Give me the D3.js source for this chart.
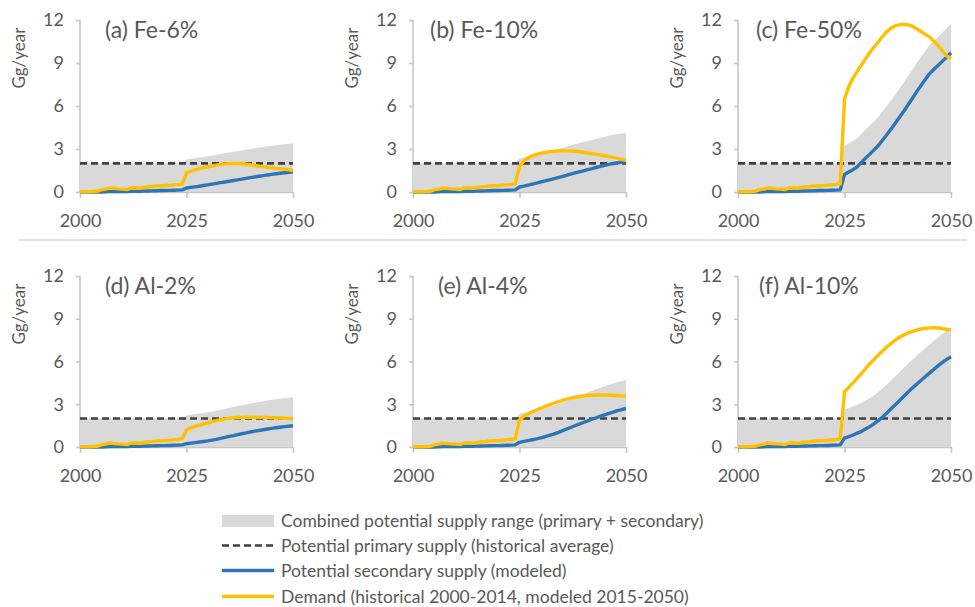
<!DOCTYPE html>
<html><head><meta charset="utf-8">
<script src="https://cdn.jsdelivr.net/npm/d3@7"></script>
<style>
body{margin:0;background:#fff}
svg{display:block}
text{font-family:Lato,"Open Sans",sans-serif;fill:#595959}
</style>
</head><body>
<svg id="chart" width="975" height="607"></svg>
<script>
// ---------------- DATA ----------------
const histYears = d3.range(2000, 2025);   // 2000-2024
const projYears = d3.range(2025, 2051);   // 2025-2050
const xTicks = [2000, 2025, 2050];
const yTicks = [0, 3, 6, 9, 12];
const yLabel = "Gg/year";

const panelTitles = ["(a) Fe-6%", "(b) Fe-10%", "(c) Fe-50%", "(d) Al-2%", "(e) Al-4%", "(f) Al-10%"];

// Historical (shared) demand and secondary supply, 2000-2024
const histDemand = [0.02,0.02,0.02,0.03,0.05,0.15,0.20,0.28,0.25,0.22,0.20,0.17,0.28,0.30,0.26,0.32,0.35,0.38,0.42,0.44,0.45,0.47,0.50,0.53,0.57];
const histSecondary = [0,0,0,0,0,0,0.02,0.04,0.03,0.03,0.03,0.03,0.05,0.05,0.05,0.06,0.07,0.08,0.09,0.10,0.10,0.11,0.12,0.13,0.15];

// Potential primary supply (historical average), per panel
const primarySupply = [2, 2, 2, 2, 2, 2];

// Modeled demand, 2025-2050
const demandFe6  = [1.33,1.45,1.55,1.63,1.70,1.76,1.82,1.87,1.92,1.96,1.98,1.99,1.99,1.97,1.94,1.90,1.85,1.80,1.77,1.73,1.70,1.66,1.63,1.59,1.55,1.50];
const demandFe10 = [1.80,2.15,2.38,2.52,2.62,2.70,2.76,2.81,2.84,2.86,2.87,2.87,2.86,2.84,2.81,2.77,2.72,2.67,2.63,2.58,2.53,2.47,2.41,2.34,2.27,2.20];
const demandFe50 = [6.50,7.35,7.95,8.42,8.88,9.32,9.75,10.13,10.50,10.87,11.20,11.45,11.60,11.68,11.70,11.66,11.55,11.38,11.18,11.00,10.80,10.52,10.20,9.85,9.50,9.30];
const demandAl2  = [1.20,1.35,1.45,1.54,1.62,1.70,1.78,1.85,1.91,1.97,2.02,2.05,2.07,2.08,2.09,2.09,2.09,2.08,2.08,2.07,2.06,2.05,2.03,2.02,2.00,1.98];
const demandAl4  = [1.90,2.15,2.32,2.47,2.60,2.72,2.84,2.96,3.07,3.17,3.27,3.36,3.43,3.49,3.54,3.58,3.61,3.63,3.64,3.65,3.65,3.64,3.63,3.61,3.59,3.58];
const demandAl10 = [3.88,4.18,4.50,4.83,5.17,5.52,5.86,6.17,6.47,6.76,7.03,7.29,7.52,7.72,7.88,8.01,8.12,8.21,8.28,8.33,8.36,8.37,8.35,8.30,8.26,8.23];

// Modeled secondary supply, 2025-2050
const secondaryFe6  = [0.28,0.32,0.36,0.40,0.45,0.50,0.55,0.60,0.65,0.70,0.75,0.80,0.85,0.90,0.95,1.00,1.05,1.10,1.14,1.19,1.23,1.27,1.31,1.34,1.37,1.40];
const secondaryFe10 = [0.35,0.41,0.48,0.55,0.62,0.70,0.77,0.85,0.92,1.00,1.08,1.16,1.25,1.33,1.41,1.48,1.56,1.63,1.71,1.79,1.86,1.93,1.99,2.04,2.08,2.11];
const secondaryFe50 = [1.23,1.40,1.56,1.76,2.08,2.38,2.66,2.96,3.26,3.65,4.03,4.42,4.83,5.25,5.67,6.12,6.56,7.02,7.45,7.86,8.26,8.56,8.84,9.13,9.42,9.72];
const secondaryAl2  = [0.23,0.27,0.31,0.35,0.39,0.43,0.48,0.54,0.61,0.67,0.74,0.80,0.87,0.93,0.99,1.05,1.11,1.16,1.21,1.26,1.31,1.35,1.39,1.43,1.46,1.49];
const secondaryAl4  = [0.33,0.39,0.45,0.51,0.57,0.64,0.72,0.81,0.90,1.01,1.13,1.25,1.37,1.49,1.61,1.72,1.83,1.95,2.05,2.16,2.26,2.36,2.45,2.55,2.63,2.70];
const secondaryAl10 = [0.63,0.72,0.84,0.97,1.10,1.28,1.44,1.64,1.87,2.12,2.40,2.70,2.98,3.28,3.58,3.88,4.15,4.42,4.68,4.95,5.20,5.46,5.71,5.94,6.15,6.33];

const demandSeries = [demandFe6, demandFe10, demandFe50, demandAl2, demandAl4, demandAl10];
const secondarySeries = [secondaryFe6, secondaryFe10, secondaryFe50, secondaryAl2, secondaryAl4, secondaryAl10];

const legendLabels = [
  "Combined potential supply range (primary + secondary)",
  "Potential primary supply (historical average)",
  "Potential secondary supply (modeled)",
  "Demand (historical 2000-2014, modeled 2015-2050)"
];

// ---------------- LAYOUT / STYLE ----------------
const colX = [80, 413, 738];
const plotW = 213;
const rowTop = [20, 276];
const rowBottom = [192, 447];
const titleDx = [25, 17, 18, 25, 25, 21];
const C = {area:"#d9d9d9", dash:"#404040", blue:"#2e75b6", yellow:"#ffc000", axis:"#c6c6c6", text:"#595959"};

const svg = d3.select("#chart");

panelTitles.forEach((title, i) => {
  const col = i % 3, row = Math.floor(i / 3);
  const x = d3.scaleLinear([2000, 2050], [colX[col], colX[col] + plotW]);
  const y = d3.scaleLinear([0, 12], [rowBottom[row], rowTop[row]]);
  const g = svg.append("g");

  const demand = histYears.map((yr, k) => ({yr, v: histDemand[k]}))
    .concat(projYears.map((yr, k) => ({yr, v: demandSeries[i][k]})));
  const secondary = histYears.map((yr, k) => ({yr, v: histSecondary[k]}))
    .concat(projYears.map((yr, k) => ({yr, v: secondarySeries[i][k]})));
  const p = primarySupply[i];
  const combined = secondary.map(d => ({yr: d.yr, v: p + (d.yr >= 2025 ? d.v : 0)}));

  // axes
  const ya = g.append("g").attr("transform", `translate(${colX[col]},0)`)
    .call(d3.axisLeft(y).tickValues(yTicks).tickSize(4).tickPadding(12));
  const xa = g.append("g").attr("transform", `translate(0,${rowBottom[row]})`)
    .call(d3.axisBottom(x).tickValues(xTicks).tickFormat(d3.format("d")).tickSize(6).tickPadding(16).tickSizeOuter(0));
  [ya, xa].forEach(a => {
    a.select(".domain").attr("stroke", C.axis).attr("stroke-width", 1.6);
    a.selectAll(".tick line").attr("stroke", C.axis).attr("stroke-width", 1.6);
    a.selectAll(".tick text").attr("fill", C.text).style("font-size", "18px").style("font-family", "Lato");
  });
  ya.select(".domain").attr("d", `M-0,${rowBottom[row]}V${rowTop[row]}`);

  // area
  g.append("path").datum(combined)
    .attr("fill", C.area)
    .attr("d", d3.area().x(d => x(d.yr)).y0(y(0)).y1(d => y(d.v)));

  // primary dashed
  g.append("path").datum([2000, 2050])
    .attr("fill", "none").attr("stroke", C.dash).attr("stroke-width", 2.6)
    .attr("stroke-dasharray", "7,4")
    .attr("d", d3.line().x(d => x(d)).y(() => y(p)));

  // secondary
  g.append("path").datum(secondary)
    .attr("fill", "none").attr("stroke", C.blue).attr("stroke-width", 3.4)
    .attr("stroke-linejoin", "round")
    .attr("d", d3.line().x(d => x(d.yr)).y(d => y(d.v)));

  // demand
  g.append("path").datum(demand)
    .attr("fill", "none").attr("stroke", C.yellow).attr("stroke-width", 3.4)
    .attr("stroke-linejoin", "round")
    .attr("d", d3.line().x(d => x(d.yr)).y(d => y(d.v)));

  // title
  g.append("text").attr("x", colX[col] + titleDx[i]).attr("y", rowTop[row] + 18)
    .style("font-size", "23px").text(title);

  // y label
  g.append("text")
    .attr("transform", `translate(${colX[col] - 55},${rowTop[row] + 38}) rotate(-90)`)
    .attr("text-anchor", "middle").style("font-size", "17px").text(yLabel);
});

// separator
svg.append("line").attr("x1", 19).attr("x2", 967).attr("y1", 240).attr("y2", 240)
  .attr("stroke", "#d9d9d9").attr("stroke-width", 1.5);

// legend
const legY = [521, 545.5, 570.5, 596.5];
const lg = svg.append("g");
legendLabels.forEach((lab, k) => {
  const cy = legY[k];
  if (k === 0) {
    lg.append("rect").attr("x", 222).attr("y", cy - 6).attr("width", 52).attr("height", 12).attr("fill", C.area);
  } else {
    const ln = lg.append("line").attr("x1", 222).attr("x2", 274).attr("y1", cy).attr("y2", cy)
      .attr("stroke-width", k === 1 ? 2.6 : 3.4)
      .attr("stroke", k === 1 ? C.dash : (k === 2 ? C.blue : C.yellow));
    if (k === 1) ln.attr("stroke-dasharray", "7,4");
  }
  lg.append("text").attr("x", 281).attr("y", cy).attr("dy", "0.35em")
    .style("font-size", "17.5px").text(lab);
});
</script>
</body></html>
